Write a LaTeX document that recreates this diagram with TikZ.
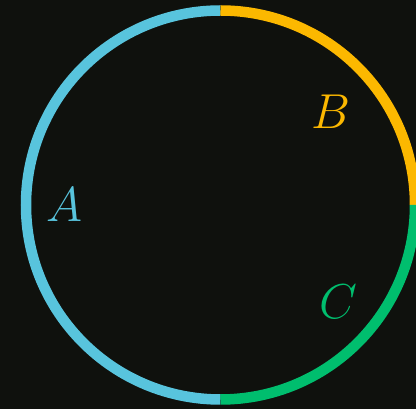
\documentclass[tikz,border=0pt]{standalone}
\definecolor{bgdark}{RGB}{15,17,13}
\definecolor{arcblue}{RGB}{88,196,221}
\definecolor{arcgold}{RGB}{252,184,0}
\definecolor{arcgreen}{RGB}{0,190,110}
\tikzset{
  arcline/.style={line width=10.5pt},
  arclabel/.style={font=\Huge,scale=1.97}
}
\begin{document}
\begin{tikzpicture}[x=1pt,y=1pt]
\fill[bgdark] (0,0) rectangle (416,409);
\useasboundingbox (0,0) rectangle (416,409);

\coordinate (O) at (220.5,204);
\draw[arcline,arcblue] (O) ++(90:194.5) arc (90:270:194.5);
\draw[arcline,arcgold] (O) ++(0:194.5) arc (0:90:194.5);
\draw[arcline,arcgreen] (O) ++(270:194.5) arc (270:360:194.5);

\node[arclabel,text=arcblue] (labA) at (64,204) {$A$};
\node[arclabel,text=arcgold] (labB) at (331,297) {$B$};
\node[arclabel,text=arcgreen] (labC) at (338,107) {$C$};
\end{tikzpicture}
\end{document}
